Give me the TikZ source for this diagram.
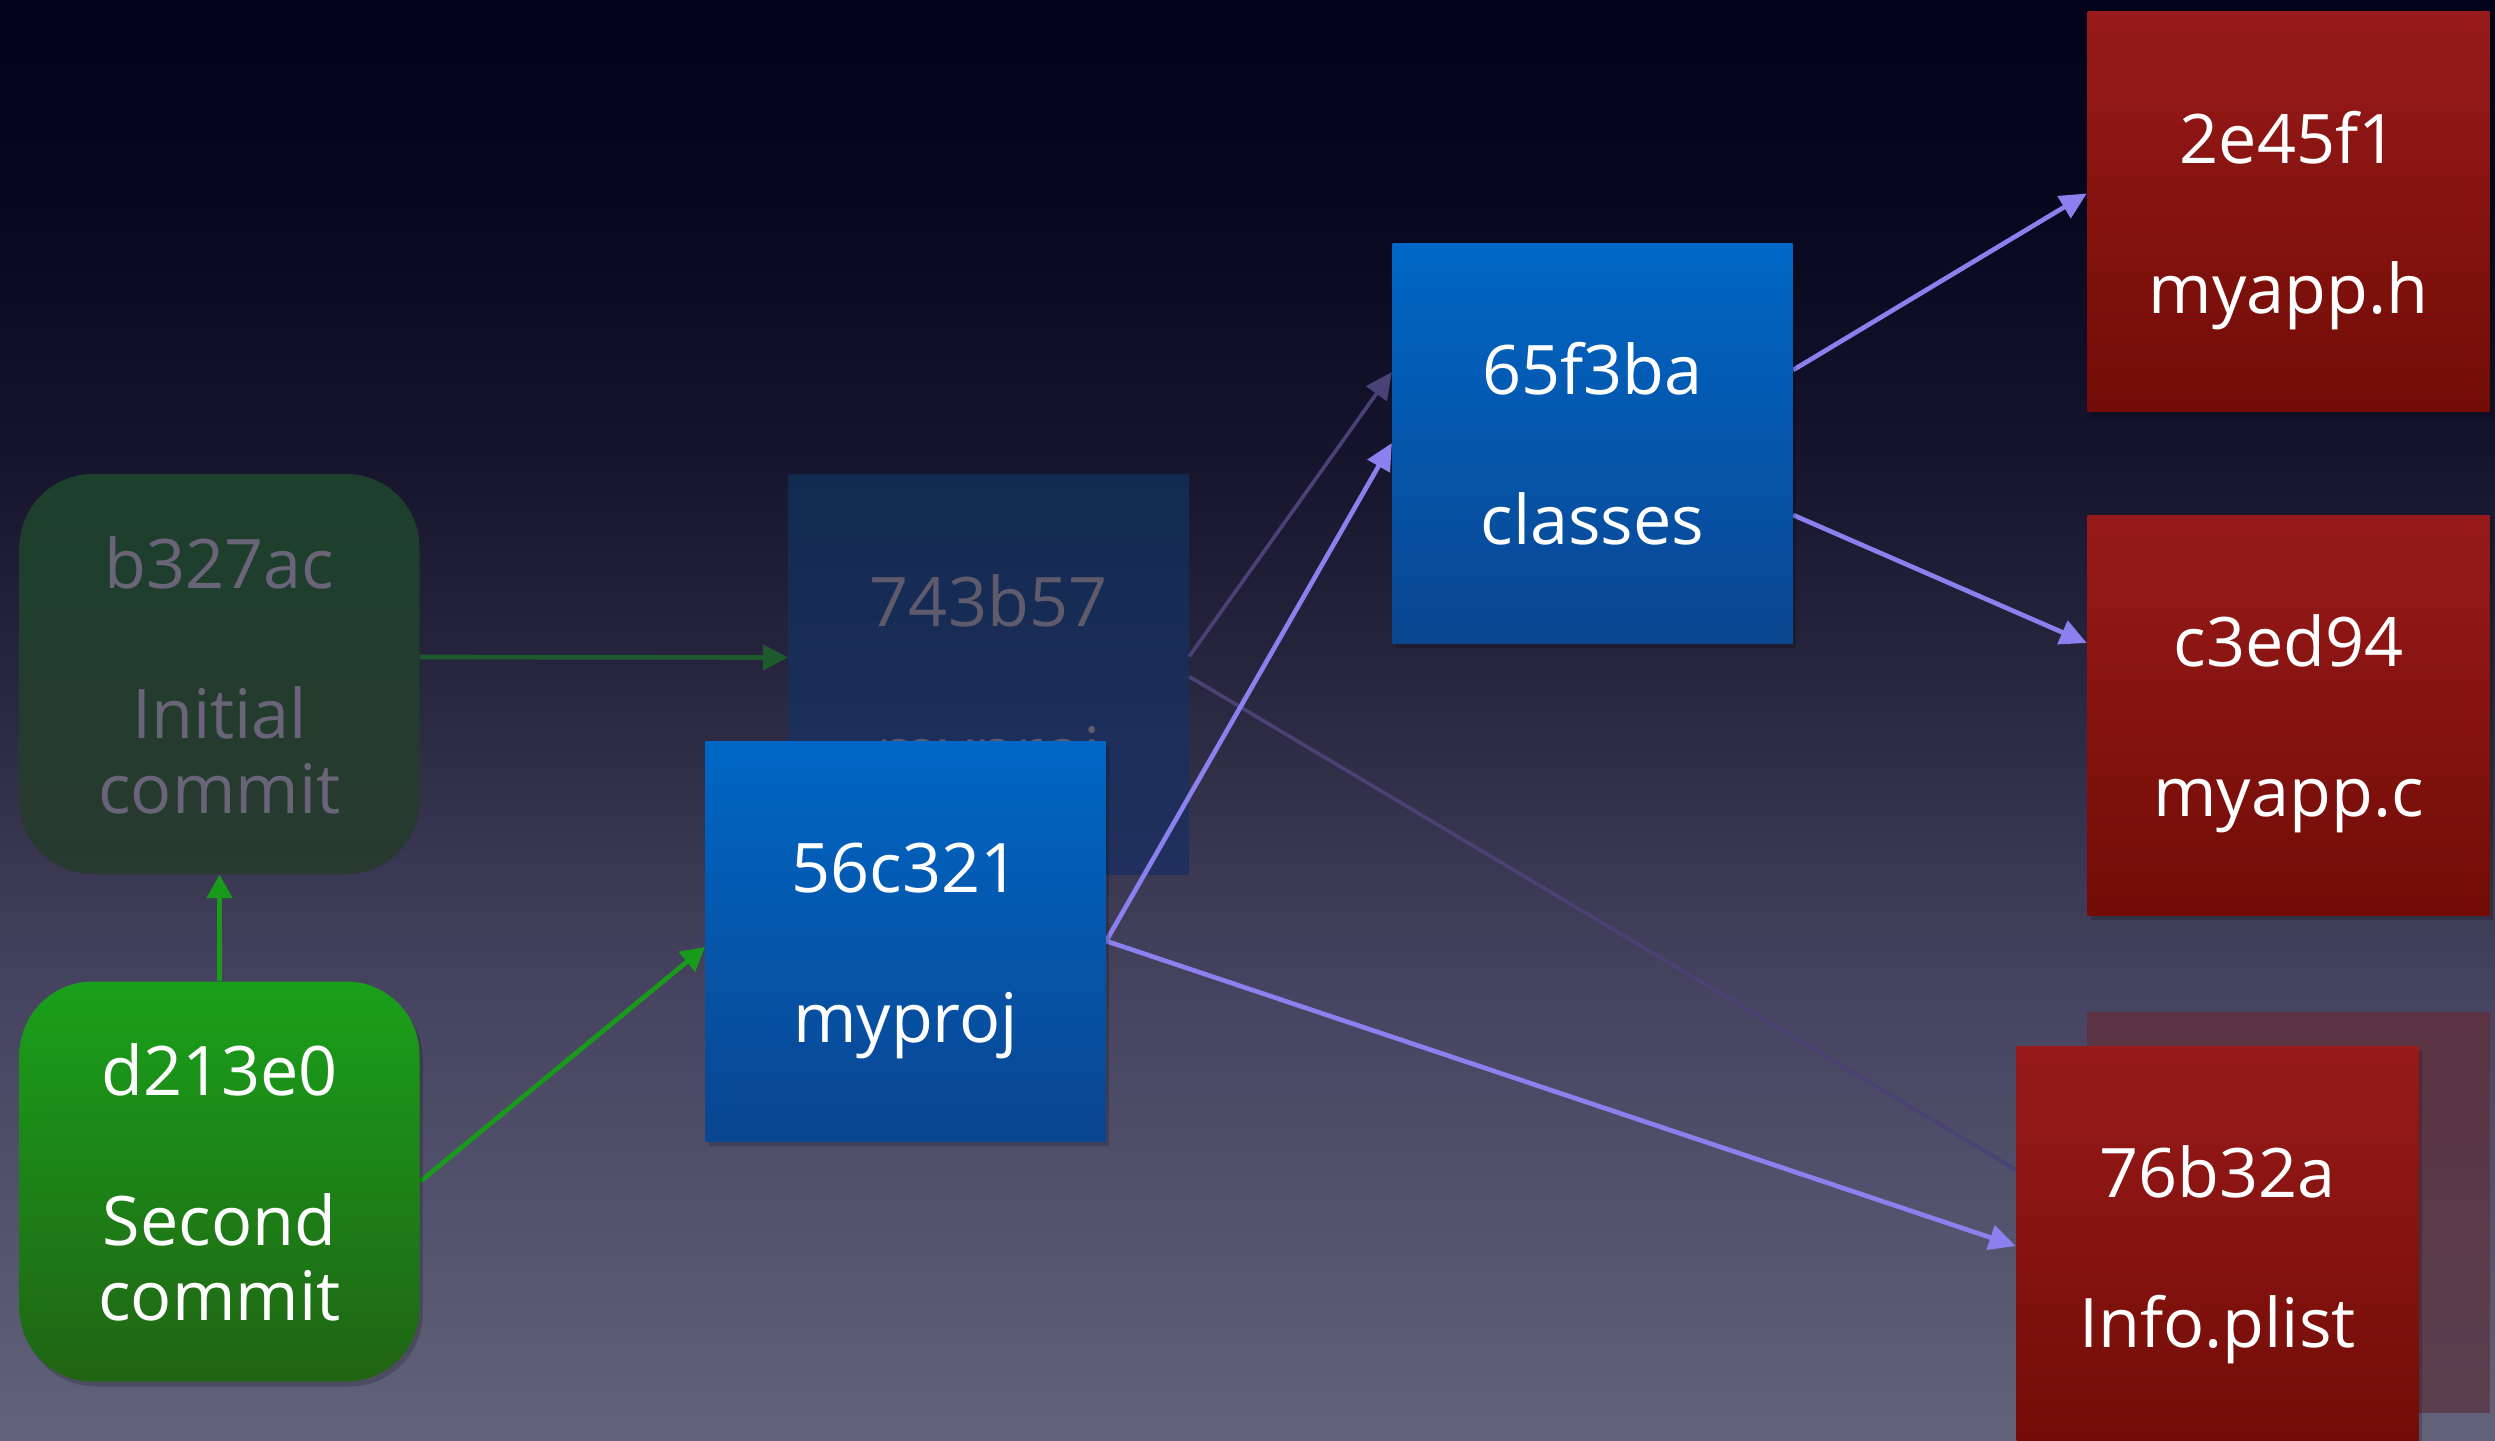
\documentclass[tikz,border=0pt]{standalone}
\usepackage{fontspec}
\setmainfont{Open Sans}
\usetikzlibrary{arrows.meta,shadows,calc}
\definecolor{bgA}{HTML}{62627A}
\definecolor{bgB}{HTML}{464460}
\definecolor{bgC}{HTML}{2A2740}
\definecolor{bgD}{HTML}{16142D}
\definecolor{bgE}{HTML}{070720}
\definecolor{bgF}{HTML}{02021A}
\definecolor{blueT}{HTML}{0067C6}
\definecolor{blueB}{HTML}{0A4590}
\definecolor{redT}{HTML}{981A1A}
\definecolor{redB}{HTML}{720C06}
\definecolor{greenT}{HTML}{1AA01A}
\definecolor{greenB}{HTML}{206414}
\definecolor{fgreenT}{HTML}{1D402C}
\definecolor{fgreenB}{HTML}{28392F}
\definecolor{fblueT}{HTML}{122A50}
\definecolor{fblueB}{HTML}{21305E}
\definecolor{fredT}{HTML}{5A3242}
\definecolor{fredB}{HTML}{5A404E}
\definecolor{fadetext}{HTML}{6A6478}
\definecolor{purp}{HTML}{8A80EE}
\definecolor{fpurp}{HTML}{4A4274}
\definecolor{grn}{HTML}{1A9A1A}
\definecolor{fgrn}{HTML}{1F5A2E}
\pgfdeclareverticalshading{bgshade}{100bp}{color(0bp)=(bgA); color(25bp)=(bgA); color(40.3bp)=(bgB); color(50.7bp)=(bgC); color(59.4bp)=(bgD); color(68bp)=(bgE); color(75bp)=(bgF); color(100bp)=(bgF)}
\pgfdeclarelayer{bgl}
\pgfdeclarelayer{fadel}
\pgfdeclarelayer{linel}
\pgfsetlayers{bgl,fadel,linel,main}
\newcommand{\lbl}[2]{\rule{0pt}{21pt}#1\\[22.5pt]#2\vphantom{p}}
\begin{document}
\begin{tikzpicture}[x=0.3pt,y=-0.3pt,
  blob/.style={minimum width=120pt, minimum height=120pt, inner sep=0pt, align=center,
    text=white, font=\fontsize{20.5}{22.5}\selectfont},
  shad/.style={drop shadow={shadow xshift=1pt, shadow yshift=-1.5pt, opacity=0.18, fill=black}},
  treebox/.style={blob, shad, top color=blueT, bottom color=blueB},
  filebox/.style={blob, shad, minimum width=120.6pt, top color=redT, bottom color=redB},
  commitbox/.style={blob, shad, rounded corners=22pt, top color=greenT, bottom color=greenB},
  oldcommit/.style={blob, rounded corners=22pt, top color=fgreenT, bottom color=fgreenB, text=fadetext},
  oldtree/.style={blob, top color=fblueT, bottom color=fblueB, text=fadetext!90!black},
  oldfile/.style={blob, minimum width=120.6pt, top color=fredT, bottom color=fredB},
  link/.style={-{Triangle[length=8pt,width=7.5pt]}, line width=1.4pt, draw=purp},
  oldlink/.style={-{Triangle[length=8pt,width=7.5pt]}, line width=1.1pt, draw=fpurp},
  clink/.style={-{Triangle[length=7pt,width=7.5pt]}, line width=1.4pt, draw=grn},
  oldclink/.style={-{Triangle[length=7.5pt,width=7.5pt]}, line width=1.4pt, draw=fgrn}]
\useasboundingbox (0,0) rectangle (2495,1440);
\begin{pgfonlayer}{bgl}
\fill[shading=bgshade] (0,0) rectangle (2495,1440);
\end{pgfonlayer}
\begin{pgfonlayer}{fadel}
\node[oldfile] (oldf) at (2288.5,1212) {};
\node[oldcommit] (b327ac) at (219.5,674) {\lbl{b327ac}{Initial\\commit}};
\node[oldtree] (t743) at (988.5,674.5) {\lbl{743b57}{myproj}};
\end{pgfonlayer}
% bright nodes
\node[commitbox] (d213e0) at (219.5,1181.5) {\lbl{d213e0}{Second\\commit}};
\node[treebox] (t56c) at (905.5,941) {\lbl{56c321}{myproj}};
\node[treebox] (t65f) at (1592.5,443) {\lbl{65f3ba}{classes}};
\node[filebox] (f2e4) at (2288.5,211.5) {\lbl{2e45f1}{myapp.h}};
\node[filebox] (fc3e) at (2288.5,715) {\lbl{c3ed94}{myapp.c}};
\node[filebox] (f76b) at (2217.5,1246) {\lbl{76b32a}{Info.plist}};
\begin{pgfonlayer}{linel}
\draw[oldclink] ($(b327ac.east)+(0,-17)$) -- ($(t743.west)+(0,-17)$);
\draw[oldlink] ($(t743.east)+(0,-18)$) -- ($(t65f.west)+(0,-71)$);
\draw[oldlink] ($(t743.east)+(0,2)$) -- (oldf.west);
\draw[clink] (d213e0.north) -- (b327ac.south);
\draw[clink] (d213e0.east) -- ($(t56c.west)+(0,6)$);
\draw[link] (t56c.east) -- (t65f.west);
\draw[link] (t56c.east) -- (f76b.west);
\draw[link] ($(t65f.east)+(0,-73)$) -- ($(f2e4.west)+(0,-18)$);
\draw[link] ($(t65f.east)+(0,72)$) -- ($(fc3e.west)+(0,-72)$);
\end{pgfonlayer}
\end{tikzpicture}
\end{document}
